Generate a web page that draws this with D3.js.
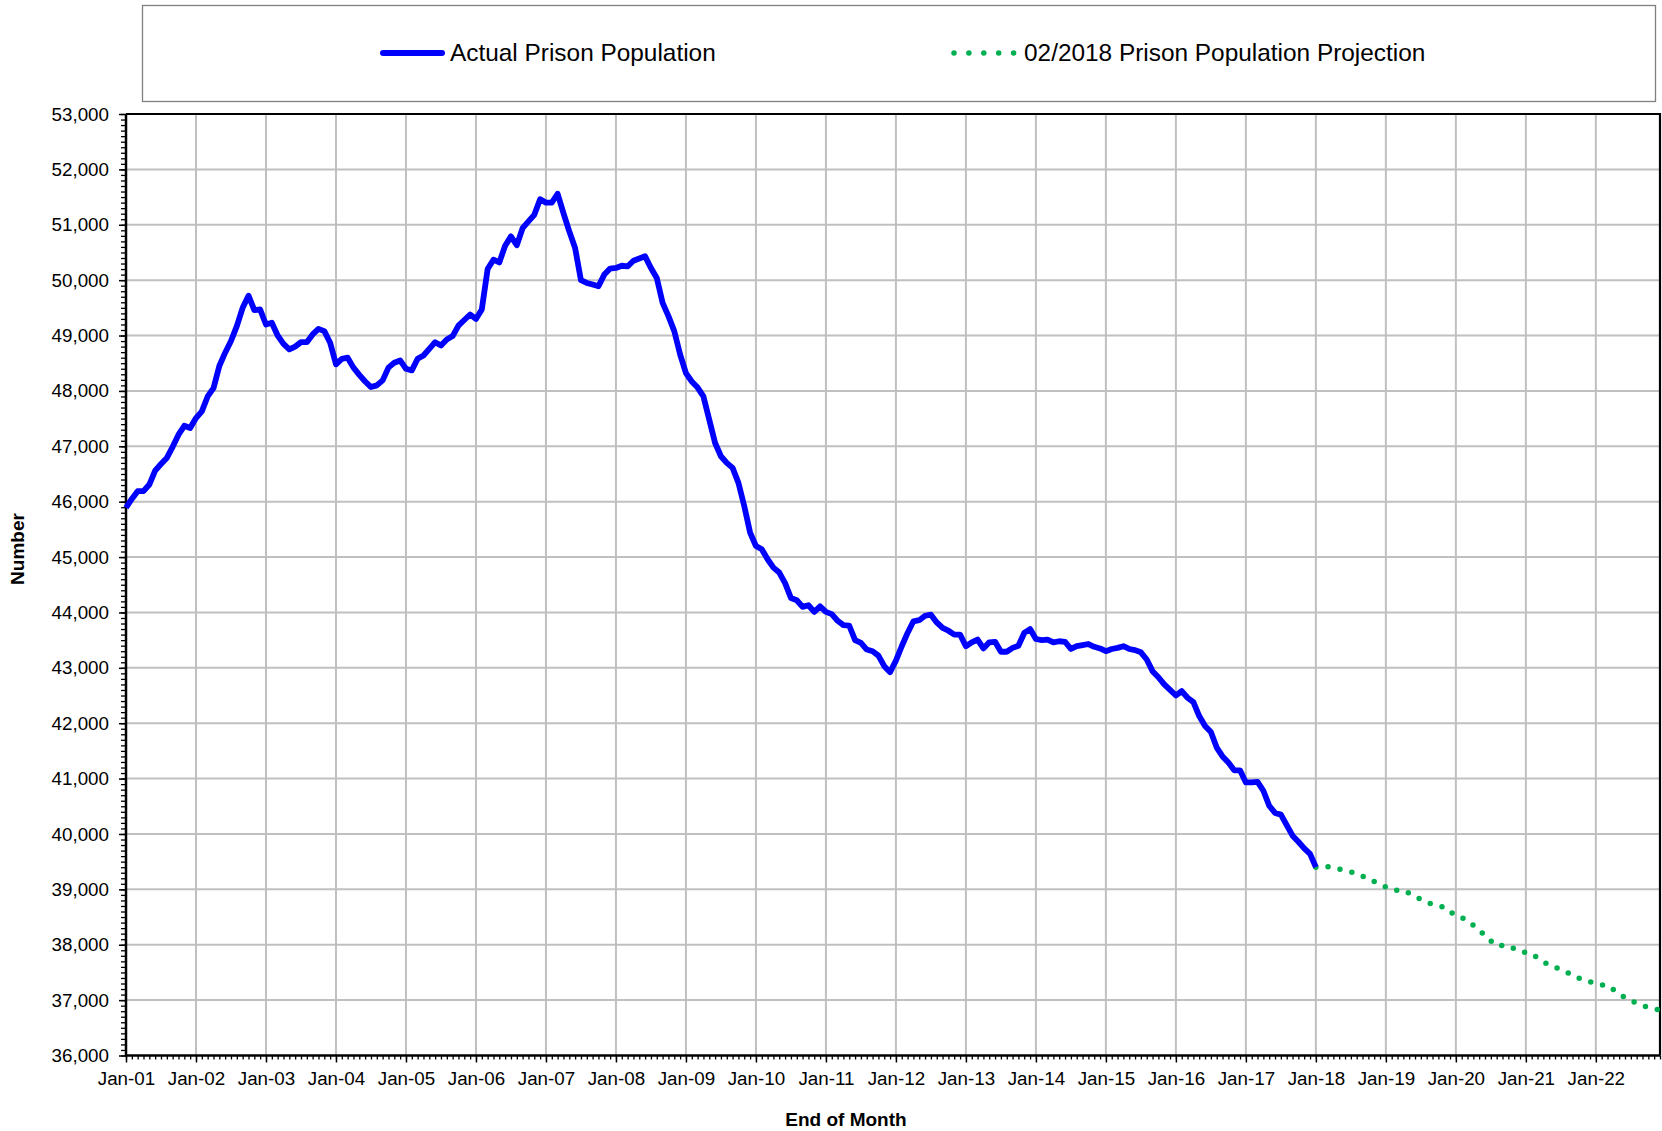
<!DOCTYPE html>
<html>
<head>
<meta charset="utf-8">
<script src="https://cdnjs.cloudflare.com/ajax/libs/d3/7.8.5/d3.min.js"></script>
<style>
  body { margin: 0; background: #fff; }
  svg { display: block; font-family: "Liberation Sans", Arial, sans-serif; }
  .tick text { font-size: 18.8px; fill: #000; }
</style>
</head>
<body>
<svg id="chart" width="1662" height="1131"></svg>
<script>
// month categories Jan-01 .. Dec-22 (one per end of month)
var monNames = ["Jan","Feb","Mar","Apr","May","Jun","Jul","Aug","Sep","Oct","Nov","Dec"];
var months = [];
for (var yr = 1; yr <= 22; yr++) {
    for (var mo = 0; mo < 12; mo++) {
	months.push(monNames[mo] + "-" + (yr < 10 ? "0" + yr : "" + yr));
    }
}

var xTickLabels = ["Jan-01","Jan-02","Jan-03","Jan-04","Jan-05","Jan-06","Jan-07","Jan-08",
		   "Jan-09","Jan-10","Jan-11","Jan-12","Jan-13","Jan-14","Jan-15","Jan-16",
		   "Jan-17","Jan-18","Jan-19","Jan-20","Jan-21","Jan-22"];

var yTicks = [36000,37000,38000,39000,40000,41000,42000,43000,44000,
	      45000,46000,47000,48000,49000,50000,51000,52000,53000];

// Actual prison population, Jan-01 .. Jan-18
var actual = [
    45890,46050,46190,46190,46310,46560,46680,46790,46990,47210,47370,47330, // 2001
    47510,47630,47900,48050,48450,48690,48900,49170,49500,49720,49460,49470, // 2002
    49200,49230,49000,48850,48750,48800,48880,48880,49020,49120,49080,48870, // 2003
    48480,48580,48600,48420,48290,48170,48070,48100,48190,48420,48510,48550, // 2004
    48400,48370,48580,48640,48760,48880,48820,48930,48990,49180,49280,49380, // 2005
    49300,49470,50200,50370,50320,50620,50790,50630,50940,51060,51180,51460, // 2006
    51400,51400,51560,51210,50880,50580,50000,49950,49920,49890,50100,50210, // 2007
    50220,50260,50250,50350,50390,50430,50220,50040,49590,49350,49080,48660, // 2008
    48320,48170,48060,47900,47480,47060,46820,46700,46610,46340,45920,45440, // 2009
    45200,45140,44960,44810,44720,44530,44260,44220,44100,44130,44010,44110, // 2010
    44010,43970,43850,43770,43760,43500,43450,43330,43300,43220,43030,42920, // 2011
    43130,43390,43630,43840,43860,43940,43960,43820,43720,43670,43600,43600, // 2012
    43390,43460,43510,43350,43460,43470,43290,43290,43360,43400,43630,43700, // 2013
    43520,43500,43510,43460,43480,43470,43340,43390,43410,43430,43380,43350, // 2014
    43300,43340,43360,43390,43340,43320,43280,43150,42940,42830,42700,42600, // 2015
    42500,42580,42460,42380,42130,41950,41840,41560,41400,41290,41150,41150, // 2016
    40930,40930,40940,40780,40510,40380,40350,40160,39970,39860,39740,39640, // 2017
    39400                                                                     // Jan-18
];

// 02/2018 projection, Jan-18 .. Dec-22
var projection = [
    39400,39410,39410,39390,39365,39340,39315,39290,39240,39190,39140,39090, // 2018
    39040,38990,38985,38985,38930,38875,38820,38770,38730,38700,38680,38600, // 2019
    38520,38490,38440,38350,38260,38170,38070,37980,37985,37985,37930,37875, // 2020
    37860,37840,37760,37690,37640,37595,37550,37500,37460,37400,37370,37330, // 2021
    37290,37275,37270,37190,37110,37050,36990,36945,36900,36870,36840,36820  // 2022
];
var projStart = months.indexOf("Jan-18");

var svg = d3.select("#chart");
var plot = {left: 126, right: 1660, top: 114, bottom: 1055.5};

var x = d3.scaleLinear()
    .domain([0, months.length - 1])
    .range([plot.left, plot.right]);

var y = d3.scaleLinear()
    .domain([36000, 53000])
    .range([plot.bottom, plot.top]);

svg.append("rect")
    .attr("width", 1662).attr("height", 1131)
    .attr("fill", "#fff");

// legend box
svg.append("rect")
    .attr("x", 142.5).attr("y", 5.5)
    .attr("width", 1513).attr("height", 96)
    .attr("fill", "#fff")
    .attr("stroke", "#808080")
    .attr("stroke-width", 1.3);

var majorIdx = xTickLabels.map(function(d) { return months.indexOf(d); });

// gridlines
svg.append("g")
    .selectAll("line")
    .data(majorIdx.slice(1))
    .enter()
    .append("line")
    .attr("x1", function(d) { return x(d); })
    .attr("x2", function(d) { return x(d); })
    .attr("y1", plot.top)
    .attr("y2", plot.bottom)
    .attr("stroke", "#c0c0c0")
    .attr("stroke-width", 2);

svg.append("g")
    .selectAll("line")
    .data(yTicks.slice(1, -1))
    .enter()
    .append("line")
    .attr("x1", plot.left)
    .attr("x2", plot.right)
    .attr("y1", function(d) { return y(d); })
    .attr("y2", function(d) { return y(d); })
    .attr("stroke", "#c0c0c0")
    .attr("stroke-width", 2);

// plot border (top / right)
svg.append("path")
    .attr("d", "M" + plot.left + "," + plot.top + "H" + plot.right + "V" + plot.bottom)
    .attr("fill", "none")
    .attr("stroke", "#000")
    .attr("stroke-width", 2.2);

// minor ticks
var minorY = d3.range(36000, 53001, 100);
svg.append("g")
    .attr("transform", "translate(" + plot.left + ",0)")
    .call(d3.axisLeft(y).tickValues(minorY).tickSize(5).tickFormat(""))
    .call(function(g) { g.select(".domain").remove(); })
    .selectAll("line").attr("stroke-width", 1.3);

svg.append("g")
    .attr("transform", "translate(0," + plot.bottom + ")")
    .call(d3.axisBottom(x).tickValues(d3.range(0, months.length)).tickSize(4).tickFormat(""))
    .call(function(g) { g.select(".domain").remove(); })
    .selectAll("line").attr("stroke-width", 1.3);

// major axes
var yAxis = svg.append("g")
    .attr("transform", "translate(" + plot.left + ",0)")
    .call(d3.axisLeft(y).tickValues(yTicks).tickSize(7).tickPadding(10)
	  .tickFormat(d3.format(",")));
yAxis.select(".domain").attr("stroke-width", 2.5).attr("d", "M0," + plot.top + "V" + plot.bottom);
yAxis.selectAll(".tick line").attr("stroke-width", 1.5);

var xAxis = svg.append("g")
    .attr("transform", "translate(0," + plot.bottom + ")")
    .call(d3.axisBottom(x).tickValues(majorIdx).tickSize(7).tickPadding(9)
	  .tickFormat(function(d) { return months[d]; }));
xAxis.select(".domain").attr("stroke-width", 2.5).attr("d", "M" + plot.left + ",0H" + plot.right);
xAxis.selectAll(".tick line").attr("stroke-width", 1.5);

// series
var line = d3.line()
    .x(function(d) { return x(d.i); })
    .y(function(d) { return y(d.v); });

var actualPts = actual.map(function(v, i) { return {i: i, v: v}; });
var projPts = projection.map(function(v, i) { return {i: projStart + i, v: v}; });

svg.append("path")
    .datum(projPts)
    .attr("d", line)
    .attr("fill", "none")
    .attr("stroke", "#00b050")
    .attr("stroke-width", 5.5)
    .attr("stroke-linecap", "round")
    .attr("stroke-dasharray", "0 12.2");

svg.append("path")
    .datum(actualPts)
    .attr("d", line)
    .attr("fill", "none")
    .attr("stroke", "#0000ff")
    .attr("stroke-width", 5.8)
    .attr("stroke-linejoin", "round");

// legend entries
svg.append("line")
    .attr("x1", 383).attr("x2", 442)
    .attr("y1", 53).attr("y2", 53)
    .attr("stroke", "#0000ff")
    .attr("stroke-width", 6)
    .attr("stroke-linecap", "round");
svg.append("text")
    .attr("x", 450).attr("y", 61)
    .attr("font-size", 24.4)
    .text("Actual Prison Population");

svg.append("line")
    .attr("x1", 954).attr("x2", 1014)
    .attr("y1", 53).attr("y2", 53)
    .attr("stroke", "#00b050")
    .attr("stroke-width", 5.5)
    .attr("stroke-linecap", "round")
    .attr("stroke-dasharray", "0 14.9");
svg.append("text")
    .attr("x", 1024).attr("y", 61)
    .attr("font-size", 24.4)
    .text("02/2018 Prison Population Projection");

// axis titles
svg.append("text")
    .attr("x", 846).attr("y", 1126)
    .attr("text-anchor", "middle")
    .attr("font-size", 19)
    .attr("font-weight", "bold")
    .text("End of Month");

svg.append("text")
    .attr("transform", "translate(24,549) rotate(-90)")
    .attr("text-anchor", "middle")
    .attr("font-size", 19)
    .attr("font-weight", "bold")
    .text("Number");
</script>
</body>
</html>
